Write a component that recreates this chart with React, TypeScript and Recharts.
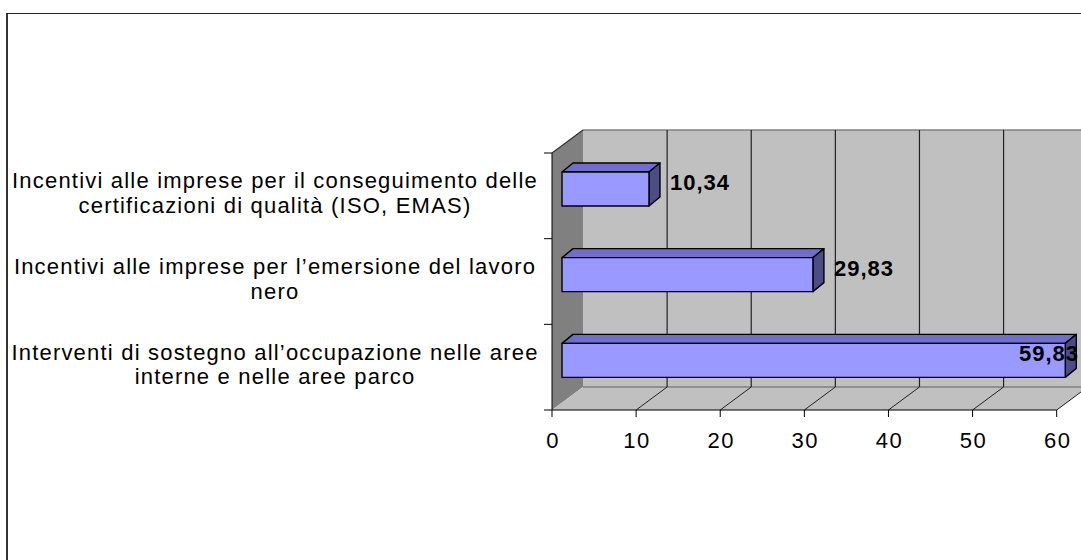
import React from 'react';
import { BarChart, Bar, XAxis, YAxis, CartesianGrid, LabelList } from 'recharts';

// categories top to bottom, line breaks as in the original labels
const categories = [
  'Incentivi alle imprese per il conseguimento delle\ncertificazioni di qualità (ISO, EMAS)',
  'Incentivi alle imprese per l’emersione del lavoro\nnero',
  'Interventi di sostegno all’occupazione nelle aree\ninterne e nelle aree parco',
];
const values = [10.34, 29.83, 59.83];
const xTicks = [0, 10, 20, 30, 40, 50, 60];

const data = categories.map((name, i) => ({ name, value: values[i] }));

const FONT = '"Liberation Sans", Arial, sans-serif';

// 3d look: depth of the walls and of the bars
const WALL_DX = 31;
const WALL_DY = 23;
const BAR_SHIFT_X = 10;
const BAR_SHIFT_Y = 7;
const BAR_DX = 11;
const BAR_DY = 9;
const LABEL_CX = 275;
const LABEL_LIMIT = 1079; // keep value labels inside the visible frame

const renderWalls = (props: any) => {
  const { x, y, width, height, index } = props;
  if (index !== 0) return <g />;
  const n = categories.length;
  const bottom = y + height;
  return (
    <g>
      <rect x={x + WALL_DX} y={y - WALL_DY} width={width} height={height} fill="#C0C0C0" />
      <line x1={x + WALL_DX} y1={y - WALL_DY} x2={x + WALL_DX + width} y2={y - WALL_DY} stroke="#808080" strokeWidth={1.5} />
      <polygon
        points={`${x},${y} ${x + WALL_DX},${y - WALL_DY} ${x + WALL_DX},${bottom - WALL_DY} ${x},${bottom}`}
        fill="#808080"
      />
      <line x1={x} y1={y} x2={x + WALL_DX} y2={y - WALL_DY} stroke="#333" strokeWidth={1.2} />
      <polygon
        points={`${x},${bottom} ${x + WALL_DX},${bottom - WALL_DY} ${x + width + WALL_DX},${bottom - WALL_DY} ${x + width},${bottom}`}
        fill="#C0C0C0"
      />
      <line x1={x + WALL_DX} y1={bottom - WALL_DY} x2={x + width + WALL_DX} y2={bottom - WALL_DY} stroke="#808080" strokeWidth={1.5} />
      {Array.from({ length: n + 1 }).map((_, i) => (
        <line key={i} x1={x - 8} y1={y + (i * height) / n} x2={x} y2={y + (i * height) / n} stroke="#000" />
      ))}
    </g>
  );
};

const renderGridLine = (props: any) => {
  const { x, x1, y1, y2 } = props;
  if (Math.abs(x1 - x) < 1) return <g />;
  return (
    <g>
      <line x1={x1 + WALL_DX} y1={y1 - WALL_DY} x2={x1 + WALL_DX} y2={y2 - WALL_DY} stroke="#222" strokeWidth={1.2} />
      <line x1={x1} y1={y2} x2={x1 + WALL_DX} y2={y2 - WALL_DY} stroke="#222" />
    </g>
  );
};

const Bar3D = (props: any) => {
  const { x, y, width, height } = props;
  const fx = x + BAR_SHIFT_X;
  const fy = y - BAR_SHIFT_Y;
  const r = fx + width;
  return (
    <g stroke="#000" strokeWidth={1.4} strokeLinejoin="round">
      <polygon
        points={`${fx},${fy} ${fx + BAR_DX},${fy - BAR_DY} ${r + BAR_DX},${fy - BAR_DY} ${r},${fy}`}
        fill="#6F6FCB"
      />
      <polygon
        points={`${r},${fy} ${r + BAR_DX},${fy - BAR_DY} ${r + BAR_DX},${fy + height - BAR_DY} ${r},${fy + height}`}
        fill="#4D4D85"
      />
      <rect x={fx} y={fy} width={width} height={height} fill="#9999FF" />
    </g>
  );
};

const renderValueLabel = (props: any) => {
  const { x, y, width, value } = props;
  const text = Number(value).toFixed(2).replace('.', ',');
  let lx = x + width + BAR_SHIFT_X + 21;
  if (lx + 60 > LABEL_LIMIT) lx = LABEL_LIMIT - 60;
  return (
    <text x={lx} y={y + 11} fontFamily={FONT} fontSize={22} fontWeight="bold" letterSpacing={1} fill="#000">
      {text}
    </text>
  );
};

const CategoryTick = (props: any) => {
  const { y, payload } = props;
  const lines = String(payload.value).split('\n');
  return (
    <text x={LABEL_CX} y={y - 7.5} textAnchor="middle" fontFamily={FONT} fontSize={22} letterSpacing={1.2} fill="#000">
      {lines.map((l, i) => (
        <tspan key={i} x={LABEL_CX} dy={i === 0 ? 0 : 24.5}>
          {l}
        </tspan>
      ))}
    </text>
  );
};

const ValueTick = (props: any) => {
  const { x, y, payload } = props;
  return (
    <text x={x + 1} y={y + 29} textAnchor="middle" fontFamily={FONT} fontSize={22} letterSpacing={1.5} fill="#000">
      {payload.value}
    </text>
  );
};

export default function App() {
  return (
    <div
      style={{
        position: 'absolute',
        left: 0,
        top: 0,
        width: 1081,
        height: 560,
        overflow: 'hidden',
        background: '#fff',
        fontFamily: FONT,
      }}
    >
      <div
        style={{
          position: 'absolute',
          left: 6,
          top: 13,
          width: 1200,
          height: 700,
          borderTop: '1px solid #222',
          borderLeft: '2px solid #333',
        }}
      />
      <div style={{ position: 'absolute', left: 0, top: 0 }}>
        <BarChart
          width={1120}
          height={560}
          data={data}
          layout="vertical"
          margin={{ top: 153, right: 63.3, bottom: 120, left: 0 }}
          barSize={34}
        >
          <CartesianGrid horizontal={renderWalls} vertical={renderGridLine} stroke="none" />
          <XAxis
            type="number"
            domain={[0, 60]}
            ticks={xTicks}
            interval={0}
            height={30}
            tickSize={7}
            axisLine={{ stroke: '#000' }}
            tickLine={{ stroke: '#000' }}
            tick={<ValueTick />}
          />
          <YAxis
            type="category"
            dataKey="name"
            width={552}
            interval={0}
            tickLine={false}
            axisLine={{ stroke: '#000' }}
            tick={<CategoryTick />}
          />
          <Bar dataKey="value" shape={<Bar3D />} isAnimationActive={false}>
            <LabelList dataKey="value" content={renderValueLabel} />
          </Bar>
        </BarChart>
      </div>
    </div>
  );
}
